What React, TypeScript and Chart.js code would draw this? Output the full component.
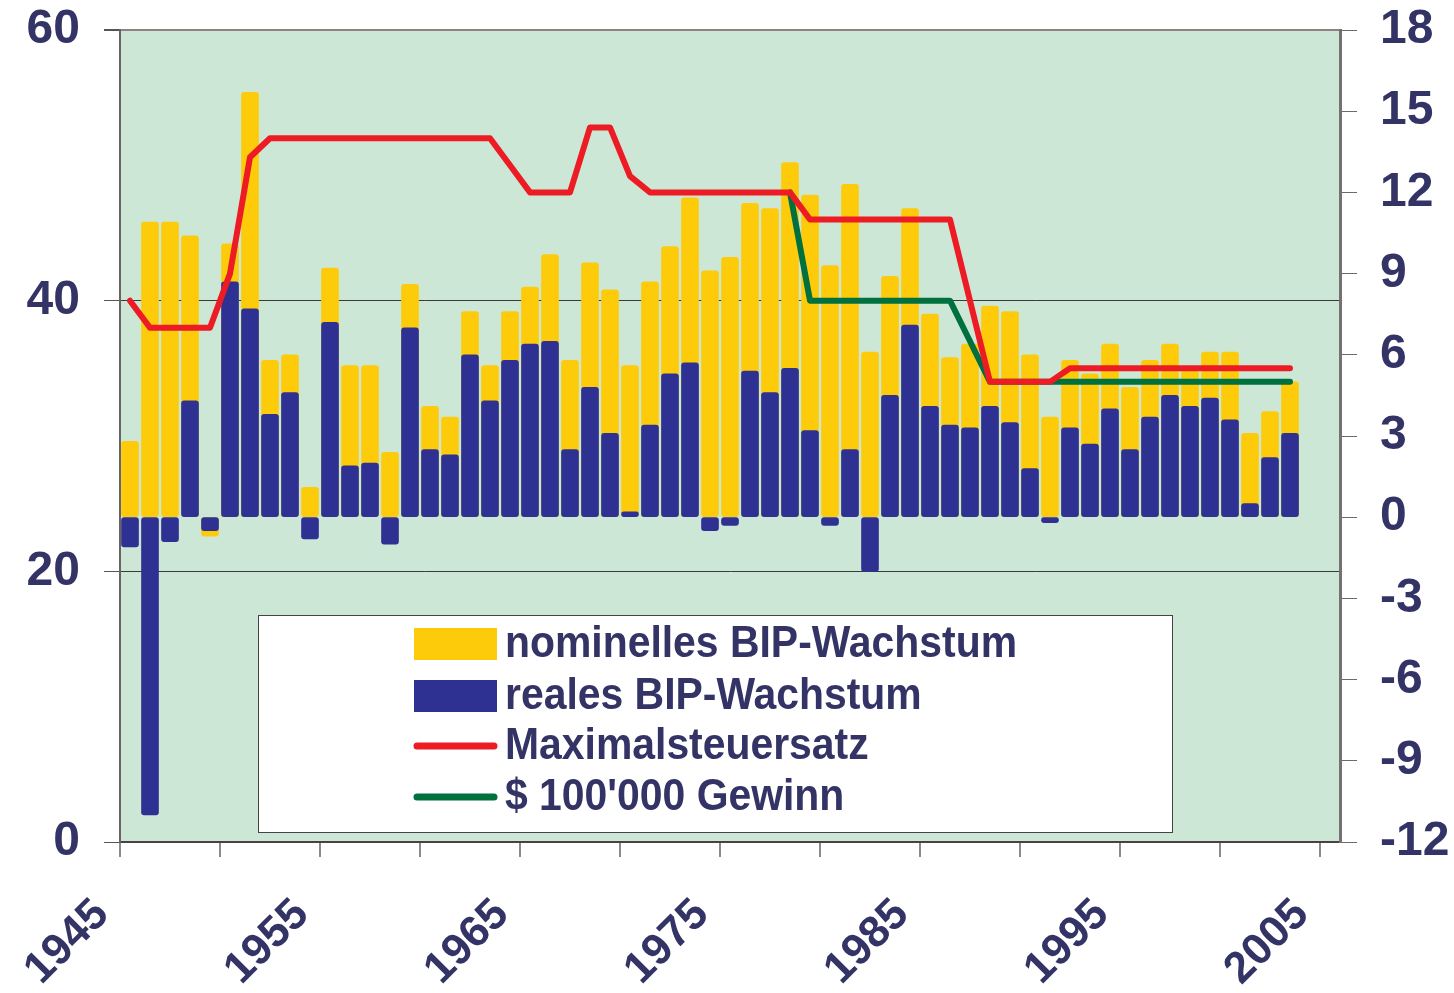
import React, { useEffect, useRef } from 'react';
import { Chart, registerables } from 'chart.js';

Chart.register(...registerables);

// ---- Data ----
const years = [
  1945, 1946, 1947, 1948, 1949, 1950, 1951, 1952, 1953, 1954,
  1955, 1956, 1957, 1958, 1959, 1960, 1961, 1962, 1963, 1964,
  1965, 1966, 1967, 1968, 1969, 1970, 1971, 1972, 1973, 1974,
  1975, 1976, 1977, 1978, 1979, 1980, 1981, 1982, 1983, 1984,
  1985, 1986, 1987, 1988, 1989, 1990, 1991, 1992, 1993, 1994,
  1995, 1996, 1997, 1998, 1999, 2000, 2001, 2002, 2003,
];

// nominal GDP growth (%) – right axis
const nominalGrowth = [
  2.8, 10.9, 10.9, 10.4, -0.7, 10.1, 15.7, 5.8, 6.0, 1.1,
  9.2, 5.6, 5.6, 2.4, 8.6, 4.1, 3.7, 7.6, 5.6, 7.6,
  8.5, 9.7, 5.8, 9.4, 8.4, 5.6, 8.7, 10.0, 11.8, 9.1,
  9.6, 11.6, 11.4, 13.1, 11.9, 9.3, 12.3, 6.1, 8.9, 11.4,
  7.5, 5.9, 6.4, 7.8, 7.6, 6.0, 3.7, 5.8, 5.3, 6.4,
  4.8, 5.8, 6.4, 5.5, 6.1, 6.1, 3.1, 3.9, 5.0,
];

// real GDP growth (%) – right axis
const realGrowth = [
  -1.1, -11.0, -0.9, 4.3, -0.5, 8.7, 7.7, 3.8, 4.6, -0.8,
  7.2, 1.9, 2.0, -1.0, 7.0, 2.5, 2.3, 6.0, 4.3, 5.8,
  6.4, 6.5, 2.5, 4.8, 3.1, 0.2, 3.4, 5.3, 5.7, -0.5,
  -0.3, 5.4, 4.6, 5.5, 3.2, -0.3, 2.5, -2.0, 4.5, 7.1,
  4.1, 3.4, 3.3, 4.1, 3.5, 1.8, -0.2, 3.3, 2.7, 4.0,
  2.5, 3.7, 4.5, 4.1, 4.4, 3.6, 0.5, 2.2, 3.1,
];

// top tax rate line – plotted on right axis scale
const topTaxRate = [
  8, 7, 7, 7, 7, 9, 13.3, 14, 14, 14,
  14, 14, 14, 14, 14, 14, 14, 14, 14, 13,
  12, 12, 12, 14.4, 14.4, 12.6, 12, 12, 12, 12,
  12, 12, 12, 12, 11, 11, 11, 11, 11, 11,
  11, 11, 8, 5, 5, 5, 5, 5.5, 5.5, 5.5,
  5.5, 5.5, 5.5, 5.5, 5.5, 5.5, 5.5, 5.5, 5.5,
];

// tax on $100'000 profit line – plotted on right axis scale
const profitTax = [
  null, null, null, null, null, null, null, null, null, null,
  null, null, null, null, null, null, null, null, null, null,
  null, null, null, null, null, null, null, null, null, null,
  null, null, null, 12, 8, 8, 8, 8, 8, 8,
  8, 8, 6.5, 5, 5, 5, 5, 5, 5, 5,
  5, 5, 5, 5, 5, 5, 5, 5, 5,
];

const xTickYears = [1945, 1950, 1955, 1960, 1965, 1970, 1975, 1980, 1985, 1990, 1995, 2000, 2005];
const xLabelYears = [1945, 1955, 1965, 1975, 1985, 1995, 2005];

const legendLabels = [
  'nominelles BIP-Wachstum',
  'reales BIP-Wachstum',
  'Maximalsteuersatz',
  "$ 100'000 Gewinn",
];

// ---- Styles ----
const COLORS = {
  plotBg: '#cde7d7',
  yellow: '#fdcb0a',
  blue: '#2e3192',
  red: '#ed1c24',
  green: '#00703f',
  text: '#333366',
};
const FONT = 'Liberation Sans';

const plotBgPlugin = {
  id: 'plotBg',
  beforeDraw(chart: any) {
    const { ctx, chartArea } = chart;
    ctx.save();
    ctx.fillStyle = COLORS.plotBg;
    ctx.fillRect(chartArea.left, chartArea.top, chartArea.right - chartArea.left, chartArea.bottom - chartArea.top);
    ctx.restore();
  },
};

const boxLegendPlugin = {
  id: 'boxLegend',
  afterDraw(chart: any) {
    const { ctx, chartArea } = chart;
    const boxX = chartArea.left + 138;
    const boxY = 615;
    const boxW = 914;
    const boxH = 217;
    ctx.save();
    ctx.fillStyle = '#ffffff';
    ctx.fillRect(boxX, boxY, boxW, boxH);
    ctx.strokeStyle = '#444444';
    ctx.lineWidth = 1;
    ctx.strokeRect(boxX + 0.5, boxY + 0.5, boxW, boxH);

    const symX = boxX + 156;
    const symW = 83;
    const textX = boxX + 247;
    const rowY = [644, 696, 746, 797];
    ctx.font = `bold 44px "${FONT}"`;
    const sx = 512 / ctx.measureText(legendLabels[0]).width;

    // symbols
    ctx.fillStyle = COLORS.yellow;
    ctx.fillRect(symX, rowY[0] - 16, symW, 32);
    ctx.fillStyle = COLORS.blue;
    ctx.fillRect(symX, rowY[1] - 16, symW, 32);
    ctx.lineCap = 'round';
    ctx.lineWidth = 7;
    ctx.strokeStyle = COLORS.red;
    ctx.beginPath();
    ctx.moveTo(symX + 3, rowY[2]);
    ctx.lineTo(symX + symW - 3, rowY[2]);
    ctx.stroke();
    ctx.strokeStyle = COLORS.green;
    ctx.beginPath();
    ctx.moveTo(symX + 3, rowY[3]);
    ctx.lineTo(symX + symW - 3, rowY[3]);
    ctx.stroke();

    // texts
    ctx.fillStyle = COLORS.text;
    ctx.textBaseline = 'middle';
    ctx.textAlign = 'left';
    legendLabels.forEach((label, i) => {
      ctx.save();
      ctx.translate(textX, rowY[i] + 1);
      ctx.scale(sx, 1);
      ctx.fillText(label, 0, 0);
      ctx.restore();
    });
    ctx.restore();
  },
};

export default function App() {
  const canvasRef = useRef<HTMLCanvasElement | null>(null);

  useEffect(() => {
    const canvas = canvasRef.current;
    if (!canvas) return;

    const pts = (vals: (number | null)[]) => years.map((yr, i) => ({ x: yr + 0.5, y: vals[i] }));

    const tickFont = { family: FONT, size: 48, weight: 'bold' as const };

    const chart = new Chart(canvas, {
      type: 'bar',
      data: {
        datasets: [
          {
            type: 'line',
            label: legendLabels[2],
            data: pts(topTaxRate),
            yAxisID: 'y1',
            xAxisID: 'x',
            borderColor: COLORS.red,
            borderWidth: 6,
            pointRadius: 0,
            borderCapStyle: 'round',
            borderJoinStyle: 'round',
            tension: 0,
            order: 1,
          } as any,
          {
            type: 'line',
            label: legendLabels[3],
            data: pts(profitTax),
            yAxisID: 'y1',
            xAxisID: 'x',
            borderColor: COLORS.green,
            borderWidth: 6,
            pointRadius: 0,
            borderCapStyle: 'round',
            borderJoinStyle: 'round',
            tension: 0,
            order: 2,
          } as any,
          {
            type: 'bar',
            label: legendLabels[1],
            data: pts(realGrowth),
            yAxisID: 'y1',
            xAxisID: 'x',
            backgroundColor: COLORS.blue,
            barThickness: 17,
            grouped: false,
            borderRadius: 3,
            borderSkipped: false,
            order: 3,
          } as any,
          {
            type: 'bar',
            label: legendLabels[0],
            data: pts(nominalGrowth),
            yAxisID: 'y1',
            xAxisID: 'x',
            backgroundColor: COLORS.yellow,
            barThickness: 17,
            grouped: false,
            borderRadius: 3,
            borderSkipped: false,
            order: 4,
          } as any,
        ],
      },
      options: {
        responsive: false,
        animation: false,
        events: [],
        layout: { padding: { top: 30, left: 0, right: 0, bottom: 0 } },
        plugins: {
          legend: { display: false },
          tooltip: { enabled: false },
          title: { display: false },
        },
        scales: {
          x: {
            type: 'linear',
            min: 1945,
            max: 2006,
            offset: false,
            afterBuildTicks: (scale: any) => {
              scale.ticks = xTickYears.map((v) => ({ value: v }));
            },
            afterFit: (scale: any) => {
              scale.height = 151;
              scale.paddingLeft = 0;
              scale.paddingRight = 0;
            },
            grid: {
              drawOnChartArea: false,
              offset: false,
              tickLength: 15,
              color: '#8a8a8a',
              lineWidth: 2,
            },
            border: { color: '#4a4242', width: 2 },
            ticks: {
              autoSkip: false,
              maxRotation: 45,
              minRotation: 45,
              labelOffset: -18,
              padding: 32,
              color: COLORS.text,
              font: { family: FONT, size: 44, weight: 'bold' },
              callback: (value: any) => (xLabelYears.includes(Number(value)) ? String(value) : ''),
            },
          },
          y: {
            type: 'linear',
            position: 'left',
            min: 0,
            max: 60,
            afterFit: (scale: any) => {
              scale.width = 120;
              scale.paddingTop = 0;
              scale.paddingBottom = 0;
            },
            grid: {
              color: (c: any) => (c.tick && c.tick.value === 60 ? '#8c8383' : '#3a3a3a'),
              lineWidth: (c: any) => (c.tick && c.tick.value === 60 ? 2 : 1),
              tickLength: 16,
              tickColor: '#555555',
            },
            border: { color: '#6b6262', width: 2 },
            ticks: {
              stepSize: 20,
              padding: 24,
              color: COLORS.text,
              font: tickFont,
            },
          },
          y1: {
            type: 'linear',
            position: 'right',
            min: -12,
            max: 18,
            afterFit: (scale: any) => {
              scale.width = 114;
              scale.paddingTop = 0;
              scale.paddingBottom = 0;
            },
            grid: {
              drawOnChartArea: false,
              tickLength: 17,
              color: '#6a6a6a',
            },
            border: { color: '#777070', width: 3 },
            ticks: {
              stepSize: 3,
              padding: 23,
              color: COLORS.text,
              font: tickFont,
            },
          },
        },
      } as any,
      plugins: [plotBgPlugin, boxLegendPlugin],
    });

    return () => {
      chart.destroy();
    };
  }, []);

  return (
    <div style={{ position: 'absolute', left: 0, top: 0, width: 1454, height: 993, background: '#ffffff' }}>
      <canvas ref={canvasRef} width={1454} height={993} style={{ display: 'block' }} />
    </div>
  );
}
